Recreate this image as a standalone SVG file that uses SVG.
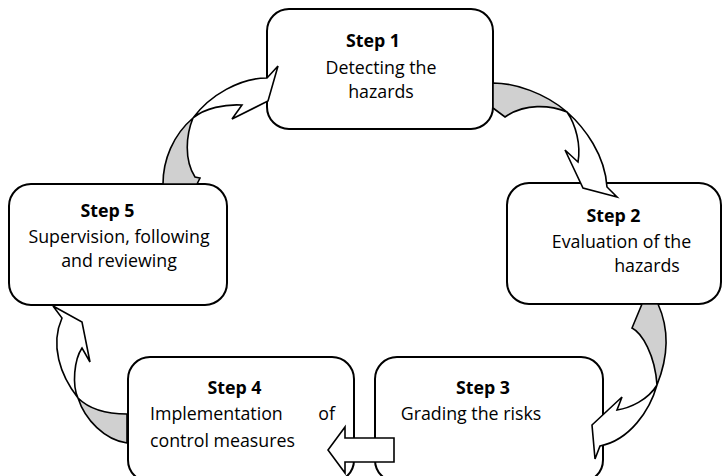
<svg xmlns="http://www.w3.org/2000/svg" width="725" height="476" viewBox="0 0 725 476">
<style>
.box{fill:#fff;stroke:#000;stroke-width:2}
.t{font-family:"Open Sans","Liberation Sans",sans-serif;font-size:17.8px;fill:#000;text-anchor:middle}
.b{font-weight:bold}
.w{fill:#fff;stroke:#000;stroke-width:1.6;stroke-linejoin:miter}
.g{fill:#d0d0d0;stroke:#000;stroke-width:1.6}
</style>
<rect width="725" height="476" fill="#fff"/>
<g id="step1">
<rect class="box" x="267" y="9" width="226" height="120" rx="22"/>
<text class="t b" x="373" y="47">Step 1</text>
<text class="t" x="381" y="74">Detecting the</text>
<text class="t" x="381" y="98">hazards</text>
</g>
<g id="step2">
<rect class="box" x="507" y="183" width="214" height="121" rx="22"/>
<text class="t b" x="613.5" y="222">Step 2</text>
<text class="t" x="621.5" y="248">Evaluation of the</text>
<text class="t" x="647" y="272">hazards</text>
</g>
<g id="step3">
<rect class="box" x="375" y="357" width="228" height="125" rx="22"/>
<text class="t b" x="483" y="394">Step 3</text>
<text class="t" x="471" y="420">Grading the risks</text>
</g>
<g id="step4">
<rect class="box" x="128" y="357" width="226" height="125" rx="22"/>
<text class="t b" x="234.5" y="394">Step 4</text>
<text class="t" x="150" y="420" style="text-anchor:start">Implementation</text>
<text class="t" x="335" y="420" style="text-anchor:end">of</text>
<text class="t" x="150" y="447" style="text-anchor:start">control measures</text>
</g>
<g id="step5">
<rect class="box" x="9" y="184" width="218" height="121" rx="22"/>
<text class="t b" x="107.5" y="217">Step 5</text>
<text class="t" x="119" y="243">Supervision, following</text>
<text class="t" x="119" y="267">and reviewing</text>
</g>
<g id="connectors">
<g id="arrow5to1">
<path class="g" d="M163,184 C163,160 173,135 193,118 C186,135 184,160 195,177 L200,178 L197,184 Z"/>
<path class="w" d="M193,118 C210,95 240,78 267,78 L278,66 L268,101 L232,119 L242,105 C225,104 205,108 193,118 Z"/>
</g>
<g id="arrow1to2">
<path class="g" d="M493,83 C515,83 545,93 567,112 C550,105 525,103 505,117 L493,108 Z"/>
<path class="w" d="M567,112 C585,128 605,155 607,187 L617,197 L583,188 L565,150 L578,162 C581,145 576,125 567,112 Z"/>
</g>
<g id="arrow2to3">
<path class="g" d="M642,304 L632,328 C642,333 655,355 657,385 C665,365 672,335 658,304 Z"/>
<path class="w" d="M657,385 C650,410 630,440 600,446 L595,459 L592,425 L622,397 L617,410 C630,408 648,400 657,385 Z"/>
</g>
<g id="arrow3to4">
<path class="w" d="M394,438 L394,462 L345,462 L345,473 L328,450 L345,427 L345,438 Z"/>
</g>
<g id="arrow4to5">
<path class="g" d="M78,398 C88,408 105,414 127,414 L127,443 C105,440 85,420 78,398 Z"/>
<path class="w" d="M78,398 C60,375 50,345 62,318 L53,306 L82,322 L90,362 L82,348 C74,360 72,385 78,398 Z"/>
</g>
</g>
</svg>
